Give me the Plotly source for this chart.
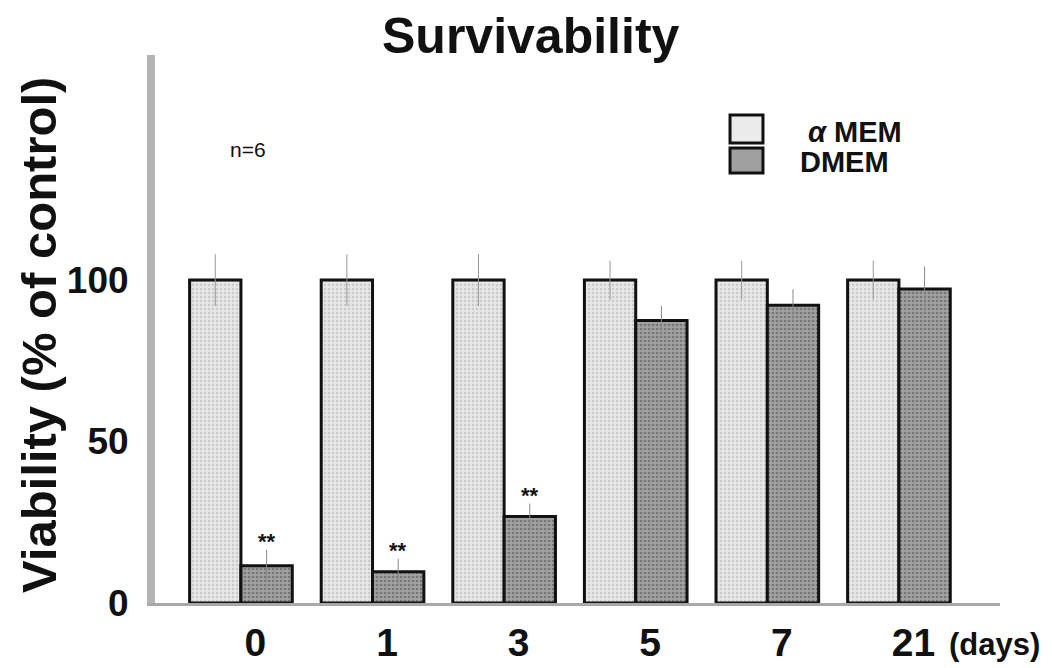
import plotly.graph_objects as go

days = ["0", "1", "3", "5", "7", "21"]
amem = [100, 100, 100, 100, 100, 100]
amem_err = [8, 8, 8, 6, 6, 6]
dmem = [11.5, 9.7, 26.8, 87.5, 92.2, 97.2]
dmem_err = [5, 4, 4, 4.5, 5, 7]
sig = ["**", "**", "**", "", "", ""]

pos = list(range(len(days)))
W = 0.39
FONT = "Arial, Liberation Sans, sans-serif"
INK = "#111"

fig = go.Figure()
fig.add_trace(go.Bar(
    x=pos, y=amem, width=W, offset=-W, name="αMEM",
    marker=dict(color="#e2e2e2", line=dict(color=INK, width=3),
                pattern=dict(shape=".", fgcolor="#aaaaaa", bgcolor="#e6e6e6", size=4, solidity=0.25)),
    error_y=dict(type="data", array=amem_err, color="#999", thickness=1, width=0),
    showlegend=False))
fig.add_trace(go.Bar(
    x=pos, y=dmem, width=W, offset=0, name="DMEM",
    marker=dict(color="#929292", line=dict(color=INK, width=3),
                pattern=dict(shape=".", fgcolor="#4a4a4a", bgcolor="#a2a2a2", size=4, solidity=0.35)),
    error_y=dict(type="data", array=dmem_err, color="#888", thickness=1, width=0),
    showlegend=False))

ann = []
for i, s in enumerate(sig):
    if s:
        ann.append(dict(x=pos[i] + W / 2, y=dmem[i] + dmem_err[i], text="<b>%s</b>" % s, showarrow=False,
                        xanchor="center", yanchor="middle", yshift=8,
                        font=dict(family=FONT, size=22, color=INK)))

ann += [
    dict(x=0.445, y=1.034, xref="paper", yref="paper", text="<b>Survivability</b>", showarrow=False,
         xanchor="center", yanchor="middle", font=dict(family=FONT, size=50, color=INK)),
    dict(x=-0.1373, y=0.489, xref="paper", yref="paper", text="<b>Viability (% of control)</b>",
         textangle=-90, showarrow=False, xanchor="center", yanchor="middle",
         font=dict(family=FONT, size=49, color=INK)),
    dict(x=0.994, y=-0.0766, xref="paper", yref="paper", text="<b>(days)</b>", showarrow=False,
         xanchor="center", yanchor="middle", font=dict(family=FONT, size=31, color=INK)),
    dict(x=0.110, y=0.827, xref="paper", yref="paper", text="n=6", showarrow=False,
         xanchor="center", yanchor="middle", font=dict(family=FONT, size=21, color=INK)),
    dict(x=0.7704, y=0.8595, xref="paper", yref="paper", text="<b><i>α</i> MEM</b>",
         showarrow=False, xanchor="left", yanchor="middle", font=dict(family=FONT, size=29, color=INK)),
    dict(x=0.761, y=0.8047, xref="paper", yref="paper", text="<b>DMEM</b>",
         showarrow=False, xanchor="left", yanchor="middle", font=dict(family=FONT, size=29, color=INK)),
]

shapes = [
    dict(type="rect", xref="paper", yref="paper", x0=0.6805, x1=0.7195, y0=0.8394, y1=0.8905,
         line=dict(color=INK, width=3), fillcolor="#ebebeb"),
    dict(type="rect", xref="paper", yref="paper", x0=0.6805, x1=0.7195, y0=0.7847, y1=0.8303,
         line=dict(color=INK, width=3), fillcolor="#a0a0a0"),
]

fig.update_layout(
    width=1052, height=668,
    margin=dict(l=147, r=60, t=47, b=73, autoexpand=False),
    paper_bgcolor="white", plot_bgcolor="white",
    barmode="overlay",
    annotations=ann, shapes=shapes,
    font=dict(family=FONT, color=INK),
    xaxis=dict(range=[-0.653, 5.768], tickvals=[p + 0.11 for p in pos], ticktext=["<b>%s</b>" % d for d in days],
               tickfont=dict(family=FONT, size=39, color=INK), showline=True, linecolor="#a8a8a8",
               linewidth=3, ticks="", showgrid=False, zeroline=False, ticklabelstandoff=3,
               automargin=False),
    yaxis=dict(range=[0, 169.7], tickvals=[0, 50, 100], ticktext=["<b>0</b>", "<b>50</b>", "<b>100</b>"],
               tickfont=dict(family=FONT, size=37, color=INK), showline=True, linecolor="#b4b4b4",
               linewidth=8, ticks="", showgrid=False, zeroline=False, ticklabelstandoff=11,
               automargin=False),
)

fig.write_html("out.html")
